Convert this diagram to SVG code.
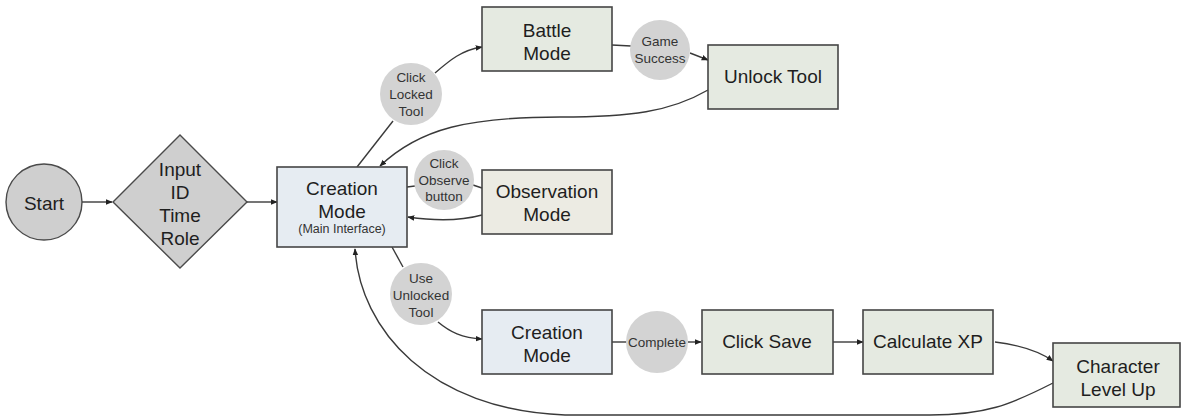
<svg xmlns="http://www.w3.org/2000/svg" width="1181" height="418" viewBox="0 0 1181 418">
  <style>
    .box { stroke: #454545; stroke-width: 1.6; }
    .blue { fill: #e6ecf2; }
    .green { fill: #e5eae1; }
    .beige { fill: #ecebe3; }
    .term { fill: #cfcfcf; stroke: #4a4a4a; stroke-width: 1.4; }
    .lbl { fill: #d3d3d3; stroke: none; }
    .t { font-family: "Liberation Sans", Arial, sans-serif; fill: #1e1e1e; text-anchor: middle; dominant-baseline: central; }
    .big { font-size: 19px; }
    .mid { font-size: 19px; }
    .sm { font-size: 13.5px; fill: #333; }
    .xs { font-size: 12.5px; fill: #333; }
    .c { fill: none; stroke: #3a3a3a; stroke-width: 1.4; }
  </style>
  <defs>
    <marker id="arr" viewBox="0 0 10 10" refX="9" refY="5" markerWidth="7" markerHeight="7" markerUnits="userSpaceOnUse" orient="auto">
      <path d="M0,1 L10,5 L0,9 z" fill="#222"/>
    </marker>
  </defs>
  <rect width="1181" height="418" fill="#ffffff"/>

  <!-- connectors -->
  <g id="connectors">
    <path class="c" d="M82,202 L112,202" marker-end="url(#arr)"/>
    <path class="c" d="M247,202 L277,202" marker-end="url(#arr)"/>
    <!-- to battle -->
    <path class="c" d="M357,167 L393,121"/>
    <path class="c" d="M435,73 C450,60 462,50 482,47" marker-end="url(#arr)"/>
    <path class="c" d="M612,45 L631,46"/>
    <path class="c" d="M690,53 L708,60" marker-end="url(#arr)"/>
    <!-- unlock back to creation -->
    <path class="c" d="M708,90 C670,112 630,117 560,117 C470,117 420,128 380,166" marker-end="url(#arr)"/>
    <!-- observation -->
    <path class="c" d="M407,187 L415,186"/>
    <path class="c" d="M473,185 L482,188"/>
    <path class="c" d="M482,215 C460,221 435,221 408,217" marker-end="url(#arr)"/>
    <!-- use unlocked tool -->
    <path class="c" d="M392,247 L403,267"/>
    <path class="c" d="M438,322 C450,332 462,338 482,339" marker-end="url(#arr)"/>
    <!-- creation chain -->
    <path class="c" d="M612,342 L627,342"/>
    <path class="c" d="M688,342 L701,342" marker-end="url(#arr)"/>
    <path class="c" d="M833,342 L863,342" marker-end="url(#arr)"/>
    <path class="c" d="M995,342 C1020,345 1040,352 1053,361" marker-end="url(#arr)"/>
    <!-- level up back to creation -->
    <path class="c" d="M1053,383 C1010,405 985,415 930,415 L565,415 C430,410 360,330 355,249" marker-end="url(#arr)"/>
  </g>

  <g id="start">
    <circle class="term" cx="44" cy="202" r="38"/>
    <text class="t mid" x="44" y="203">Start</text>
  </g>

  <g id="input">
    <polygon class="term" points="180,135 247,202 180,268 113,202"/>
    <text class="t mid" x="180" y="169">Input</text>
    <text class="t mid" x="180" y="192">ID</text>
    <text class="t mid" x="180" y="215">Time</text>
    <text class="t mid" x="180" y="238">Role</text>
  </g>

  <g id="creation-main">
    <rect class="box blue" x="277" y="167" width="130" height="80"/>
    <text class="t big" x="342" y="188">Creation</text>
    <text class="t big" x="342" y="211">Mode</text>
    <text class="t xs" x="342" y="229">(Main Interface)</text>
  </g>

  <g id="label-locked">
    <circle class="lbl" cx="411" cy="94" r="31"/>
    <text class="t sm" x="411" y="77">Click</text>
    <text class="t sm" x="411" y="94">Locked</text>
    <text class="t sm" x="411" y="111">Tool</text>
  </g>

  <g id="battle">
    <rect class="box green" x="482" y="7" width="130" height="64"/>
    <text class="t big" x="547" y="30">Battle</text>
    <text class="t big" x="547" y="53">Mode</text>
  </g>

  <g id="label-success">
    <circle class="lbl" cx="660" cy="50" r="30"/>
    <text class="t sm" x="660" y="41">Game</text>
    <text class="t sm" x="660" y="58">Success</text>
  </g>

  <g id="unlock">
    <rect class="box green" x="708" y="45" width="130" height="64"/>
    <text class="t big" x="773" y="76">Unlock Tool</text>
  </g>

  <g id="label-observe">
    <circle class="lbl" cx="444" cy="180" r="30"/>
    <text class="t sm" x="444" y="163">Click</text>
    <text class="t sm" x="444" y="180">Observe</text>
    <text class="t sm" x="444" y="196">button</text>
  </g>

  <g id="observation">
    <rect class="box beige" x="482" y="170" width="130" height="64"/>
    <text class="t big" x="547" y="191">Observation</text>
    <text class="t big" x="547" y="214">Mode</text>
  </g>

  <g id="label-use">
    <circle class="lbl" cx="421" cy="294" r="31"/>
    <text class="t sm" x="421" y="278">Use</text>
    <text class="t sm" x="421" y="295">Unlocked</text>
    <text class="t sm" x="421" y="312">Tool</text>
  </g>

  <g id="creation-work">
    <rect class="box blue" x="482" y="310" width="130" height="64"/>
    <text class="t big" x="547" y="332">Creation</text>
    <text class="t big" x="547" y="355">Mode</text>
  </g>

  <g id="label-complete">
    <circle class="lbl" cx="657" cy="342" r="31"/>
    <text class="t sm" x="657" y="342">Complete</text>
  </g>

  <g id="save">
    <rect class="box green" x="702" y="310" width="131" height="64"/>
    <text class="t big" x="767" y="341">Click Save</text>
  </g>

  <g id="xp">
    <rect class="box green" x="863" y="310" width="130" height="64"/>
    <text class="t big" x="928" y="341">Calculate XP</text>
  </g>

  <g id="levelup">
    <rect class="box green" x="1053" y="343" width="127" height="64"/>
    <text class="t big" x="1118" y="366">Character</text>
    <text class="t big" x="1118" y="389">Level Up</text>
  </g>
</svg>
